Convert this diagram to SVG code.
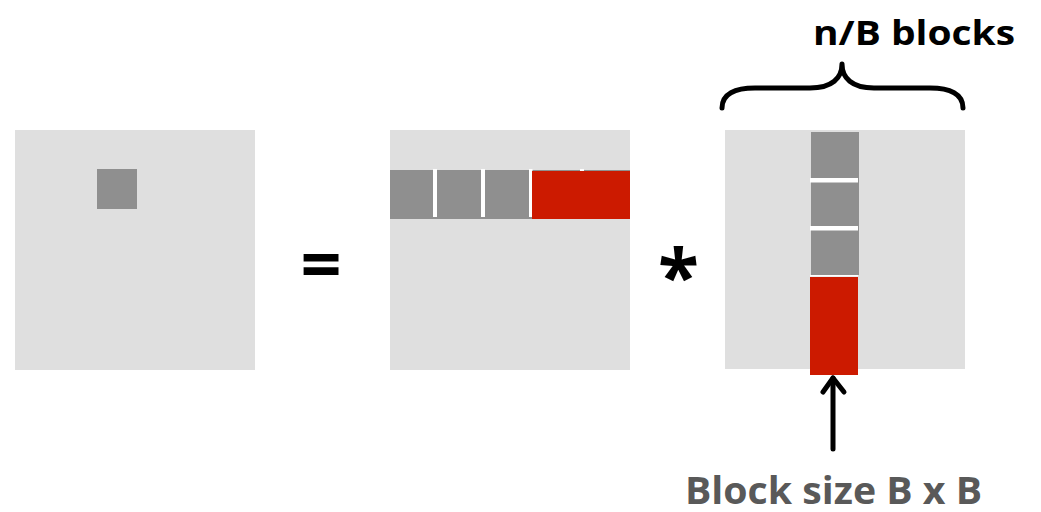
<svg xmlns="http://www.w3.org/2000/svg" width="1041" height="512" viewBox="0 0 1041 512">
<style>
.bg{fill:#dfdfdf}
.blk{fill:#8f8f8f}
.red{fill:#cc1a00}
.sep{fill:#ffffff}
.ln{fill:none;stroke:#000;stroke-width:5;stroke-linecap:round;stroke-linejoin:round}
.t{font-family:"Open Sans",Lato,"Liberation Sans",sans-serif;font-weight:bold}
</style>
<rect width="1041" height="512" fill="#fff"/>
<g id="matrixC">
<rect class="bg" x="15" y="130" width="240" height="240"/>
<rect class="blk" x="97" y="169" width="40" height="40"/>
</g>
<g id="equals"><text class="t" x="321" y="290" font-size="72" text-anchor="middle">=</text></g>
<g id="matrixA">
<rect class="bg" x="390" y="130" width="240" height="240"/>
<rect class="blk" x="390" y="170" width="240" height="49"/>
<rect class="sep" x="433" y="169" width="4" height="48"/>
<rect class="sep" x="481" y="169" width="4" height="48"/>
<rect class="sep" x="529" y="169" width="3.5" height="48"/>
<rect class="sep" x="580" y="169" width="4" height="3"/>
<rect class="red" x="532" y="171" width="98" height="48"/>
</g>
<g id="times"><text class="t" x="678.5" y="303" font-size="75" text-anchor="middle">*</text></g>
<g id="matrixB">
<rect class="bg" x="725" y="130" width="240" height="239"/>
<rect class="blk" x="811" y="132" width="48" height="143"/>
<rect class="sep" x="810" y="178" width="48" height="4.5"/>
<rect class="sep" x="810" y="226" width="48" height="4.5"/>
<rect class="sep" x="810" y="275" width="48" height="1.5"/>
<rect class="red" x="810" y="277" width="48" height="98"/>
</g>
<g id="brace">
<path class="ln" d="M722,108 C722,94 735,88 755,88 L810,88 C832,88 842,78 842,64 C842,78 852,88 874,88 L930,88 C950,88 963,94 963,108"/>
<text class="t" x="813" y="45" font-size="34" textLength="202" lengthAdjust="spacingAndGlyphs">n/B blocks</text>
</g>
<g id="connectors">
<path class="ln" d="M833,449 L833,378"/>
<path class="ln" d="M823,392 L833,378 L844,392"/>
</g>
<g id="label"><text class="t" x="685" y="504" font-size="38" fill="#595959" textLength="297" lengthAdjust="spacingAndGlyphs">Block size B x B</text></g>
</svg>
